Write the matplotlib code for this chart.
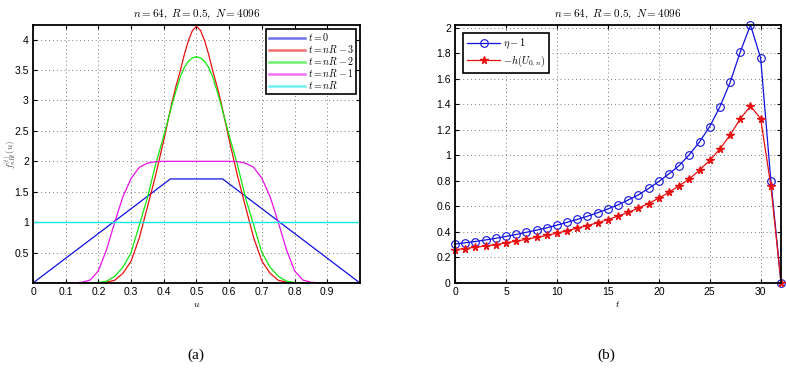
import matplotlib
matplotlib.use('Agg')
import matplotlib.pyplot as plt
from matplotlib.ticker import FormatStrFormatter

plt.rcParams['mathtext.fontset'] = 'cm'
plt.rcParams['font.family'] = 'Liberation Sans'

# --- panel (a): densities over u ---
u = [0.0, 0.025, 0.05, 0.075, 0.1, 0.125, 0.15, 0.175, 0.2, 0.225, 0.25, 0.275,
     0.3, 0.325, 0.35, 0.375, 0.4, 0.425, 0.4375, 0.45, 0.4625, 0.475, 0.4875, 0.5,
     0.5125, 0.525, 0.5375, 0.55, 0.5625, 0.575, 0.6, 0.625, 0.65, 0.675, 0.7,
     0.725, 0.75, 0.775, 0.8, 0.825, 0.85, 0.875, 0.9, 0.925, 0.95, 0.975, 1.0]

f_nR3 = [0, 0, 0, 0, 0, 0, 0, 0.001, 0.005, 0.015, 0.045, 0.16, 0.36, 0.74, 1.25,
         1.77, 2.35, 2.97, 3.24, 3.48, 3.75, 3.98, 4.15, 4.22,
         4.15, 3.98, 3.75, 3.48, 3.24, 2.97, 2.35, 1.77, 1.25, 0.74, 0.36, 0.16,
         0.045, 0.015, 0.005, 0.001, 0, 0, 0, 0, 0, 0, 0]
f_nR2 = [0, 0, 0, 0, 0, 0, 0, 0.002, 0.008, 0.03, 0.11, 0.26, 0.5, 0.95, 1.4,
         1.95, 2.42, 2.93, 3.16, 3.38, 3.54, 3.64, 3.70, 3.72,
         3.70, 3.64, 3.54, 3.38, 3.16, 2.93, 2.42, 1.95, 1.4, 0.95, 0.5, 0.26,
         0.11, 0.03, 0.008, 0.002, 0, 0, 0, 0, 0, 0, 0]
f_nR1 = [0, 0, 0, 0, 0, 0.003, 0.012, 0.05, 0.2, 0.55, 1.0, 1.42, 1.72, 1.9, 1.97,
         1.995, 2.0, 2.0, 2.0, 2.0, 2.0, 2.0, 2.0, 2.0,
         2.0, 2.0, 2.0, 2.0, 2.0, 2.0, 2.0, 1.995, 1.97, 1.9, 1.72, 1.42,
         1.0, 0.55, 0.2, 0.05, 0.012, 0.003, 0, 0, 0, 0, 0]
u_t0 = [0.0, 0.42, 0.58, 1.0]
f_t0 = [0.0, 1.71, 1.71, 0.0]
u_nR = [0.0, 1.0]
f_nR = [1.0, 1.0]

# --- panel (b): over t ---
t = list(range(33))
eta_m1 = [0.305, 0.315, 0.325, 0.337, 0.35, 0.365, 0.38, 0.397, 0.414, 0.432,
          0.453, 0.475, 0.498, 0.523, 0.55, 0.58, 0.612, 0.65, 0.69, 0.74,
          0.795, 0.855, 0.92, 1.005, 1.105, 1.225, 1.38, 1.57, 1.81, 2.02,
          1.76, 0.80, 0.0]
neg_h = [0.26, 0.27, 0.28, 0.29, 0.30, 0.315, 0.328, 0.342, 0.358, 0.372,
         0.39, 0.41, 0.43, 0.45, 0.472, 0.497, 0.524, 0.553, 0.587, 0.622,
         0.665, 0.71, 0.762, 0.815, 0.884, 0.96, 1.05, 1.158, 1.286, 1.386,
         1.286, 0.76, 0.0]

title = r'$n = 64,\ R = 0.5,\ N = 4096$'
tick_fs = 7.5

fig = plt.figure(figsize=(7.86, 3.70), dpi=100)
ax1 = fig.add_axes([0.042, 0.2351, 0.416, 0.6973])
ax2 = fig.add_axes([0.5789, 0.2351, 0.4148, 0.6973])


def matlab_style(ax):
    ax.grid(True, linestyle=(0, (1, 3)), color='#777777', linewidth=0.7)
    ax.set_axisbelow(True)
    ax.tick_params(direction='in', top=True, right=True, labelsize=tick_fs,
                   length=3, width=0.8, pad=3)
    for s in ax.spines.values():
        s.set_linewidth(1.3)
    ax.set_title(title, fontsize=8, pad=6)


ax1.plot(u_t0, f_t0, color='#1010e0', lw=0.9, label=r'$t = 0$')
ax1.plot(u, f_nR3, color='#e81010', lw=0.9, label=r'$t = nR - 3$')
ax1.plot(u, f_nR2, color='#10e810', lw=0.9, label=r'$t = nR - 2$')
ax1.plot(u, f_nR1, color='#e810e8', lw=0.9, label=r'$t = nR - 1$')
ax1.plot(u_nR, f_nR, color='#10e8e8', lw=1.0, label=r'$t = nR$')
ax1.set_xlim(0, 1)
ax1.set_ylim(0, 4.24)
ax1.set_xticks([0, 0.1, 0.2, 0.3, 0.4, 0.5, 0.6, 0.7, 0.8, 0.9])
ax1.set_yticks([0.5, 1, 1.5, 2, 2.5, 3, 3.5, 4])
ax1.xaxis.set_major_formatter(FormatStrFormatter('%g'))
ax1.yaxis.set_major_formatter(FormatStrFormatter('%g'))
matlab_style(ax1)
ax1.set_xlabel(r'$u$', fontsize=7, labelpad=1)
ax1.set_ylabel(r'$f^{(t)}_{nRt}(u)$', fontsize=6.5, color='#444444')
ax1.yaxis.set_label_coords(-0.046, 0.5)
leg1 = ax1.legend(loc='upper right', fontsize=7.2, frameon=True, fancybox=False,
                  handlelength=3.6, handletextpad=0.3, labelspacing=0.0,
                  borderpad=0.25, borderaxespad=0.35, framealpha=1)
leg1.get_frame().set_edgecolor('black')
leg1.get_frame().set_linewidth(1.2)
for ln in leg1.get_lines():
    ln.set_linewidth(1.8)
    ln.set_alpha(0.6)

ax2.plot(t, eta_m1, color='#1010e0', lw=0.9, marker='o', ms=5.5,
         mfc='none', mec='#1010e0', mew=0.8, label=r'$\eta - 1$')
ax2.plot(t, neg_h, color='#e81010', lw=0.9, marker='*', ms=5.5,
         mfc='#e81010', mec='#e81010', label=r'$-h(U_{0,n})$')
ax2.set_xlim(0, 32)
ax2.set_ylim(0, 2.02)
ax2.set_xticks([0, 5, 10, 15, 20, 25, 30])
ax2.set_yticks([0, 0.2, 0.4, 0.6, 0.8, 1, 1.2, 1.4, 1.6, 1.8, 2])
ax2.yaxis.set_major_formatter(FormatStrFormatter('%g'))
matlab_style(ax2)
for ln in ax2.get_lines():
    ln.set_clip_on(False)
ax2.set_xlabel(r'$t$', fontsize=7, labelpad=1)
leg2 = ax2.legend(loc='upper left', fontsize=7.5, frameon=True, fancybox=False,
                  handlelength=3.2, handletextpad=0.3, labelspacing=0.25,
                  borderpad=0.35, borderaxespad=0.8, framealpha=1)
leg2.get_frame().set_edgecolor('black')
leg2.get_frame().set_linewidth(1.2)

fig.text(196 / 786, 1 - 355 / 370, '(a)', ha='center', va='center',
         fontsize=11, family='Liberation Serif')
fig.text(606 / 786, 1 - 355 / 370, '(b)', ha='center', va='center',
         fontsize=11, family='Liberation Serif')

fig.savefig('out.png', dpi=100)
